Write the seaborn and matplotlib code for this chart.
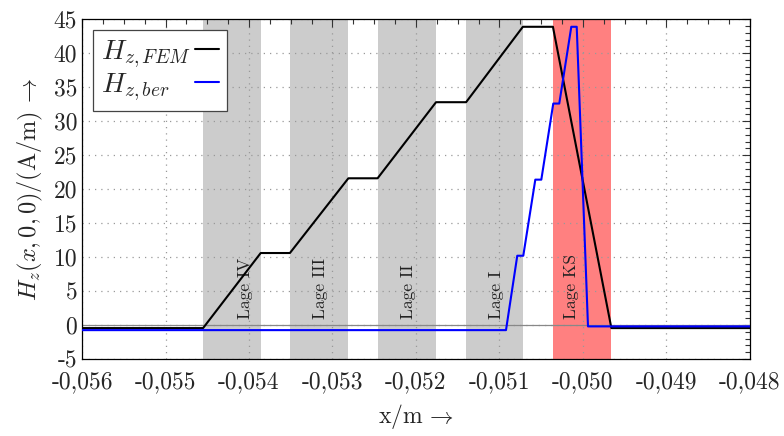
import numpy as np
import pandas as pd
import matplotlib
import matplotlib.pyplot as plt
import seaborn as sns
from matplotlib.ticker import MultipleLocator, AutoMinorLocator

# FEM curve
fem_x = [-0.056, -0.05455, -0.05386, -0.05351, -0.05281, -0.05246, -0.05176,
         -0.05140, -0.05072, -0.05036, -0.04966, -0.048]
fem_y = [-0.45, -0.45, 10.6, 10.6, 21.6, 21.6, 32.8, 32.8, 43.9, 43.9, -0.45, -0.45]

# calculated curve
ber_x = [-0.056, -0.050922, -0.050787, -0.050715, -0.050571, -0.050499, -0.050356,
         -0.050284, -0.050140, -0.050075, -0.049940, -0.048]
ber_y = [-0.75, -0.75, 10.2, 10.2, 21.4, 21.4, 32.6, 32.6, 43.9, 43.9, -0.2, -0.2]

# layers (Lagen)
lage_names = ["Lage IV", "Lage III", "Lage II", "Lage I"]
lage_start = [-0.05455, -0.05351, -0.05246, -0.05140]
lage_end = [-0.05386, -0.05281, -0.05176, -0.05072]
lage_text_x = [-0.054048, -0.053150, -0.052096, -0.051042]
ks_name = "Lage KS"
ks_start, ks_end = -0.05036, -0.04966
ks_text_x = -0.050135

xticks = [-0.056, -0.055, -0.054, -0.053, -0.052, -0.051, -0.050, -0.049, -0.048]
xtick_labels = ["-0,056", "-0,055", "-0,054", "-0,053", "-0,052", "-0,051",
                "-0,050", "-0,049", "-0,048"]
yticks = [-5, 0, 5, 10, 15, 20, 25, 30, 35, 40, 45]
ytick_labels = ["-5", "0", "5", "10", "15", "20", "25", "30", "35", "40", "45"]

sns.set_style("white")
plt.rcParams["font.family"] = ["cmr10", "DejaVu Serif"]
plt.rcParams["mathtext.fontset"] = "cm"
plt.rcParams["axes.unicode_minus"] = False
plt.rcParams["axes.formatter.use_mathtext"] = True

fem_df = pd.DataFrame({"x": fem_x, "H": fem_y})
ber_df = pd.DataFrame({"x": ber_x, "H": ber_y})

fig = plt.figure(figsize=(7.84, 4.36), dpi=100)
ax = fig.add_axes([0.1046, 0.1766, 0.852, 0.7791])

for s, e in zip(lage_start, lage_end):
    ax.axvspan(s, e, color="#cccccc", lw=0, zorder=0)
ax.axvspan(ks_start, ks_end, color="#ff8080", lw=0, zorder=0)

ax.grid(True, which="major", linestyle=(0, (1, 4)), color="#999999", linewidth=0.9, zorder=0.5)
ax.axhline(0, color="#888888", lw=0.9, zorder=1)

for name, tx in zip(lage_names, lage_text_x):
    ax.text(tx, 0.9, name, rotation=90, ha="center", va="bottom", fontsize=12.5, color="#222222", zorder=2)
ax.text(ks_text_x, 0.9, ks_name, rotation=90, ha="center", va="bottom", fontsize=12.5, color="#222222", zorder=2)

sns.lineplot(data=fem_df, x="x", y="H", ax=ax, color="black", lw=1.5,
             estimator=None, sort=False, label=r"$H_{z,FEM}$", zorder=3)
sns.lineplot(data=ber_df, x="x", y="H", ax=ax, color="#0000ff", lw=1.5,
             estimator=None, sort=False, label=r"$H_{z,ber}$", zorder=3)

ax.set_xlim(-0.056, -0.048)
ax.set_ylim(-5, 45)
ax.set_xticks(xticks, labels=xtick_labels)
ax.set_yticks(yticks, labels=ytick_labels)
ax.xaxis.set_minor_locator(AutoMinorLocator(4))
ax.yaxis.set_minor_locator(MultipleLocator(1))
ax.tick_params(which="both", direction="in", top=True, right=True, labelsize=17, color="#333333")
ax.tick_params(which="major", length=6, width=0.8)
ax.tick_params(which="minor", length=3.5, width=0.8)
ax.tick_params(axis="x", which="major", pad=9)
for sp in ax.spines.values():
    sp.set_color("black")
    sp.set_linewidth(0.9)

ax.set_xlabel(r"x/m$\,\rightarrow$", fontsize=17, labelpad=6)
ax.set_ylabel(r"$H_z(x,0,0)/(\mathrm{A/m})\,\rightarrow$", fontsize=17.5, labelpad=6)

leg = ax.legend(loc="upper left", bbox_to_anchor=(0.016, 0.9685), borderaxespad=0,
                markerfirst=False, fontsize=20, frameon=True, fancybox=False,
                framealpha=1, edgecolor="#444444", handlelength=0.85,
                handletextpad=0.15, borderpad=0.3, labelspacing=0.05)
leg.get_frame().set_linewidth(0.9)

# left-align legend texts while keeping the line samples in one column
renderer = fig.canvas.get_renderer()
col = leg._legend_handle_box.get_children()[0]
col.align = "left"
items = col.get_children()
widths = [it.get_children()[0].get_bbox(renderer).width for it in items]
for it, w in zip(items, widths):
    it.sep = it.sep + (max(widths) - w) * 72 / fig.dpi

fig.savefig("out.png", dpi=100)
